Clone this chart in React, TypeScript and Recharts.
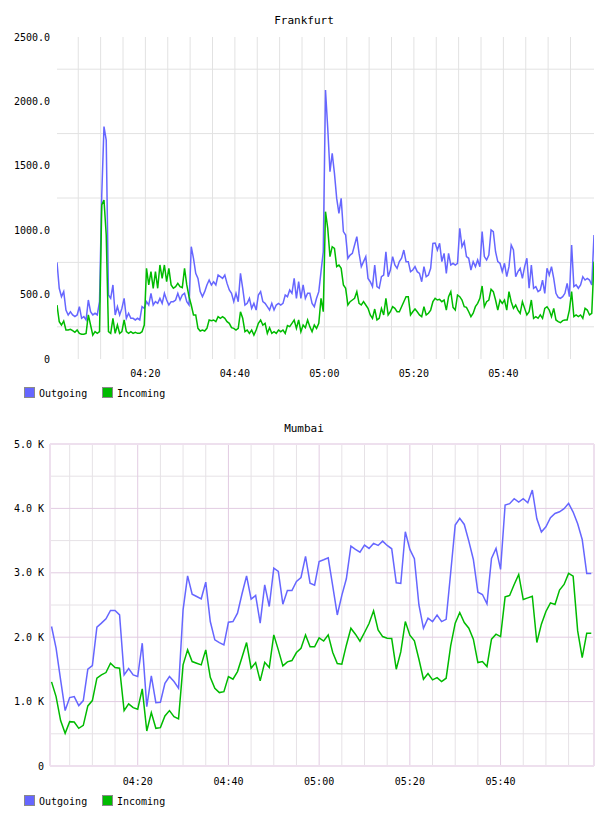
import React from "react";
import { LineChart, Line, XAxis, YAxis, CartesianGrid } from "recharts";

const MONO = '"DejaVu Sans Mono", monospace';
const OUT_COLOR = "#6666ff";
const IN_COLOR = "#00bb00";

// minutes after 04:00
const TIME_TICKS = [20, 40, 60, 80, 100];
const TIME_LABELS = ["04:20", "04:40", "05:00", "05:20", "05:40"];
const MINUTE_GRID = [5, 10, 15, 20, 25, 30, 35, 40, 45, 50, 55, 60, 65, 70, 75, 80, 85, 90, 95, 100, 105, 110, 115];
const MINOR_MINUTES = [5, 10, 15, 25, 30, 35, 45, 50, 55, 65, 70, 75, 85, 90, 95, 105, 110, 115];

// Frankfurt: 30 s samples starting 04:00:15
const FRANKFURT_START = 0.25;
const FRANKFURT_STEP = 0.5;
const FRANKFURT_DOMAIN = [0.25, 120.25];
const FRANKFURT_Y_TICKS = [0, 500, 1000, 1500, 2000, 2500];
const FRANKFURT_Y_GRID = [250, 750, 1250, 1750, 2250];

const frankfurtOutgoing = [
  750, 549, 484, 523, 380, 342, 367, 342, 329, 342,
  406, 316, 329, 303, 458, 367, 342, 355, 342, 445,
  1273, 1804, 1700, 497, 471, 575, 342, 406, 342, 393,
  471, 316, 355, 316, 316, 303, 316, 303, 406, 393,
  445, 419, 510, 419, 445, 432, 471, 432, 510, 458,
  419, 445, 445, 458, 510, 458, 497, 510, 445, 419,
  872, 782, 665, 626, 523, 484, 523, 575, 613, 575,
  600, 575, 652, 639, 626, 652, 587, 536, 510, 445,
  510, 445, 665, 549, 419,
  432, 471, 393, 432, 380, 497, 523, 445, 432, 406,
  380, 432, 380, 419, 432, 419, 432, 497, 484, 536,
  510, 626, 471, 600, 471, 575, 471, 510, 510, 432,
  406, 471, 523, 678, 833, 2088, 1791, 1454, 1597, 1441,
  1247, 1131, 1247, 989, 963, 782, 807, 820, 885, 950,
  820, 717, 756, 795, 626, 600, 562, 730, 562, 549,
  639, 652, 833, 639, 691, 795, 730, 704, 756, 782,
  846, 756, 756, 678, 691, 717, 678, 665, 600,
  717, 639, 652, 704, 898, 900, 846, 898, 756, 820,
  665, 820, 730, 743, 730, 743, 1014, 872, 911, 795,
  782, 691, 756, 717, 769, 717, 989, 795, 769, 807,
  1002, 989, 833, 756, 743, 678, 743, 639, 717, 885,
  846, 639, 678, 704, 626, 717, 782, 549, 730, 549,
  562, 523, 536, 613, 510, 704, 652, 717, 626, 510,
  479, 471, 484, 510, 587, 484, 885, 562, 575, 549,
  575, 639, 613, 626, 613, 575, 963,
];

const frankfurtIncoming = [
  419, 290, 264, 295, 225, 225, 230, 220, 207, 225,
  199, 192, 192, 199, 342, 264, 186, 212, 199, 212,
  1196, 1234, 963, 212, 199, 316, 199, 264, 199, 212,
  303, 212, 199, 212, 199, 207, 199, 199, 212, 264,
  704, 575, 678, 549, 678, 549, 730, 626, 730, 600,
  704, 575, 549, 562, 587, 562, 554, 704, 575, 484,
  419, 342, 342, 238, 217, 225, 217, 238, 303, 298,
  303, 290, 329, 316, 329, 316, 290, 277, 243, 238,
  225, 238, 367, 316, 212,
  225, 199, 225, 186, 225, 277, 303, 264, 277, 199,
  243, 199, 212, 199, 225, 212, 225, 199, 259, 251,
  277, 303, 238, 303, 212, 264, 243, 303, 251, 212,
  264, 238, 277, 471, 367, 1144, 1014, 795, 872, 859,
  717, 730, 704, 575, 549, 419, 445, 458, 471, 523,
  432, 419, 445, 419, 393, 342, 316, 388, 303, 316,
  393, 342, 471, 342, 367, 406, 393, 367, 367, 406,
  445, 484, 484, 342, 367, 388, 367, 342, 329,
  406, 342, 355, 380, 445, 471, 458, 463, 445, 458,
  380, 484, 523, 401, 380, 497, 484, 458, 406, 401,
  367, 329, 355, 406, 432, 471, 567, 406, 445, 458,
  541, 523, 458, 380, 458, 432, 458, 380, 523, 445,
  393, 419, 380, 355, 445, 393, 342, 367, 458, 316,
  329, 316, 342, 316, 393, 406, 380, 329, 393, 303,
  290, 282, 298, 303, 303, 380, 523, 329, 342, 329,
  342, 316, 393, 380, 342, 355, 756,
];

// Mumbai: 1 min samples starting 04:01
const MUMBAI_START = 1;
const MUMBAI_STEP = 1;
const MUMBAI_DOMAIN = [0.66, 120.6];
const MUMBAI_Y_TICKS = [0, 1000, 2000, 3000, 4000, 5000];
const MUMBAI_Y_MINOR = [500, 1500, 2500, 3500, 4500];
const MUMBAI_Y_MAJOR = [1000, 2000, 3000, 4000];

const mumbaiOutgoing = [
  2166, 1829, 1337, 860, 1062, 1078, 938, 1016, 1503, 1560,
  2155, 2218, 2285, 2415, 2415, 2347, 1415, 1513, 1415, 1389,
  1907, 922, 1399, 984, 990, 1285, 1389, 1311, 1207, 2425,
  2953, 2668, 2632, 2596, 2855, 2243, 1959, 1917, 1881, 2233,
  2243, 2373, 2674, 2953, 2591, 2648, 2218, 2813, 2477, 3073,
  3021, 2513, 2725, 2725, 2865, 2927, 3254, 2839, 2808, 3176,
  3202, 3233, 2793, 2345, 2650, 2907, 3415, 3363, 3321, 3430,
  3378, 3456, 3425, 3492, 3425, 3373, 2845, 2834, 3637, 3363,
  3218, 2500, 2138, 2294, 2242, 2345, 2242, 2278, 3000, 3741,
  3845, 3751, 3492, 3207, 2699, 2663, 2518, 3223, 3378, 3052,
  4052, 4073, 4150, 4098, 4150, 4088, 4285, 3839, 3632, 3715,
  3855, 3922, 3948, 3995, 4078, 3943, 3762, 3518, 2990, 2990,
];

const mumbaiIncoming = [
  1306, 1078, 705, 508, 689, 684, 585, 632, 933, 1016,
  1363, 1415, 1451, 1596, 1528, 1518, 860, 964, 907, 881,
  1197, 544, 829, 585, 596, 777, 860, 767, 731, 1570,
  1803, 1622, 1596, 1570, 1803, 1378, 1207, 1140, 1155, 1389,
  1347, 1466, 1689, 1917, 1518, 1606, 1321, 1611, 1528, 2036,
  1803, 1554, 1617, 1637, 1762, 1829, 2036, 1850, 1850, 1990,
  1940, 2036, 1762, 1591, 1580, 1876, 2140, 2047, 1938, 2073,
  2212, 2409, 2114, 2010, 1984, 1979, 1503, 1772, 2244, 2031,
  1943, 1658, 1347, 1435, 1337, 1373, 1311, 1363, 1865, 2218,
  2383, 2228, 2140, 1969, 1606, 1622, 1544, 1969, 2047, 2010,
  2627, 2648, 2819, 2974, 2585, 2611, 2637, 1917, 2202, 2400,
  2534, 2508, 2731, 2819, 2990, 2948, 2098, 1684, 2062, 2062,
];

const SERIES = [
  { key: "outgoing", label: "Outgoing", color: OUT_COLOR },
  { key: "incoming", label: "Incoming", color: IN_COLOR },
];

const frankfurtData = frankfurtOutgoing.map((v, i) => ({
  t: FRANKFURT_START + i * FRANKFURT_STEP,
  outgoing: v,
  incoming: frankfurtIncoming[i],
}));

const mumbaiData = mumbaiOutgoing.map((v, i) => ({
  t: MUMBAI_START + i * MUMBAI_STEP,
  outgoing: v,
  incoming: mumbaiIncoming[i],
}));

const tickStyle = { fontSize: 10, fontFamily: MONO, fill: "#000" };
const timeLabel = (v: number) => TIME_LABELS[TIME_TICKS.indexOf(v)] ?? "";

function Title({ text, top }: { text: string; top: number }) {
  return (
    <div
      style={{
        position: "absolute",
        top,
        left: 0,
        width: 608,
        textAlign: "center",
        fontFamily: MONO,
        fontSize: 11,
        lineHeight: "12px",
        color: "#000",
      }}
    >
      {text}
    </div>
  );
}

function Legend({ top }: { top: number }) {
  const lefts = [24, 102];
  return (
    <>
      {SERIES.map((s, i) => (
        <React.Fragment key={s.key}>
          <div
            style={{
              position: "absolute",
              left: lefts[i],
              top,
              width: 11,
              height: 11,
              boxSizing: "border-box",
              border: "1px solid #8a8a8a",
              background: s.color,
            }}
          />
          <div
            style={{
              position: "absolute",
              left: lefts[i] + 15,
              top: top + 1,
              fontFamily: MONO,
              fontSize: 10,
              lineHeight: "12px",
              color: "#000",
            }}
          >
            {s.label}
          </div>
        </React.Fragment>
      ))}
    </>
  );
}

function FrankfurtChart() {
  return (
    <div style={{ position: "absolute", left: 0, top: 0 }}>
      <LineChart
        width={608}
        height={408}
        data={frankfurtData}
        margin={{ top: 37, right: 14, left: 0, bottom: 19 }}
      >
        <CartesianGrid
          stroke="#e2e2e2"
          horizontalValues={FRANKFURT_Y_GRID}
          verticalValues={MINUTE_GRID}
          syncWithTicks={false}
        />
        <XAxis
          type="number"
          dataKey="t"
          domain={FRANKFURT_DOMAIN}
          allowDataOverflow
          ticks={TIME_TICKS}
          interval={0}
          tickFormatter={timeLabel}
          axisLine={false}
          tickLine={false}
          tickSize={0}
          tickMargin={11}
          height={30}
          tick={tickStyle}
        />
        <YAxis
          type="number"
          domain={[0, 2500]}
          ticks={FRANKFURT_Y_TICKS}
          interval={0}
          tickFormatter={(v) => (v === 0 ? "0" : Number(v).toFixed(1))}
          axisLine={false}
          tickLine={false}
          tickSize={0}
          tickMargin={7}
          width={57}
          tick={tickStyle}
        />
        {SERIES.map((s) => (
          <Line
            key={s.key}
            type="linear"
            dataKey={s.key}
            stroke={s.color}
            strokeWidth={1.5}
            dot={false}
            isAnimationActive={false}
          />
        ))}
      </LineChart>
    </div>
  );
}

function MumbaiChart() {
  return (
    <div style={{ position: "absolute", left: 0, top: 408 }}>
      <LineChart
        width={608}
        height={408}
        data={mumbaiData}
        margin={{ top: 36, right: 14, left: 0, bottom: 20 }}
      >
        <CartesianGrid
          stroke="#e6e2e6"
          horizontalValues={MUMBAI_Y_MINOR}
          verticalValues={MINOR_MINUTES}
          syncWithTicks={false}
        />
        <CartesianGrid
          stroke="#e2cce2"
          horizontalValues={MUMBAI_Y_MAJOR}
          verticalValues={TIME_TICKS}
          syncWithTicks={false}
        />
        <CartesianGrid
          stroke="#eee0ee"
          strokeWidth={2}
          horizontalValues={[0, 5000]}
          verticalValues={MUMBAI_DOMAIN}
          syncWithTicks={false}
        />
        <XAxis
          type="number"
          dataKey="t"
          domain={MUMBAI_DOMAIN}
          allowDataOverflow
          ticks={TIME_TICKS}
          interval={0}
          tickFormatter={timeLabel}
          axisLine={false}
          tickLine={false}
          tickSize={0}
          tickMargin={12}
          height={30}
          tick={tickStyle}
        />
        <YAxis
          type="number"
          domain={[0, 5000]}
          ticks={MUMBAI_Y_TICKS}
          interval={0}
          tickFormatter={(v) => (v === 0 ? "0" : `${(Number(v) / 1000).toFixed(1)} K`)}
          axisLine={false}
          tickLine={false}
          tickSize={0}
          tickMargin={6}
          width={50}
          tick={tickStyle}
        />
        {SERIES.map((s) => (
          <Line
            key={s.key}
            type="linear"
            dataKey={s.key}
            stroke={s.color}
            strokeWidth={1.5}
            dot={false}
            isAnimationActive={false}
          />
        ))}
      </LineChart>
    </div>
  );
}

export default function App() {
  return (
    <div
      style={{
        position: "absolute",
        left: 0,
        top: 0,
        width: 608,
        height: 816,
        background: "#fff",
      }}
    >
      <FrankfurtChart />
      <MumbaiChart />
      <Title text="Frankfurt" top={15} />
      <Title text="Mumbai" top={423} />
      <Legend top={387} />
      <Legend top={795} />
    </div>
  );
}
